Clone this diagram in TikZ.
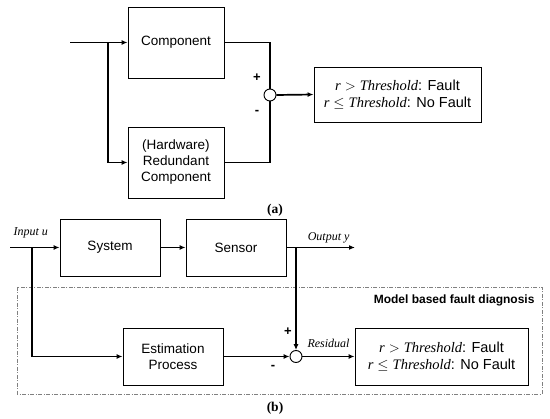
\documentclass[tikz,border=0pt]{standalone}
\usepackage{fontspec}
\setmainfont{Liberation Sans}
\newfontfamily\serifit{Liberation Serif}
\usetikzlibrary{arrows.meta}
\tikzset{
  blk/.style={draw, line width=0.9pt, align=center, font=\fontsize{13.5}{16}\selectfont, inner sep=0pt},
  thbox/.style={blk, font=\fontsize{14.5}{17}\selectfont},
  sumc/.style={draw, circle, line width=0.9pt, minimum size=12pt, inner sep=0pt, fill=white},
  con/.style={line width=1.7pt},
  arr/.style={con, -{Latex[length=6pt,width=5pt]}},
  lbl/.style={font=\fontsize{12}{14}\selectfont\serifit\itshape},
  captxt/.style={font=\fontsize{13.5}{15}\selectfont\serifit\bfseries},
  sg/.style={font=\fontsize{13}{13}\selectfont\bfseries},
}
\newcommand{\tv}[1]{{\serifit\itshape #1}}
\newcommand{\thr}{\tv{r} $>$ \tv{Threshold}: Fault\\ \tv{r} $\leq$ \tv{Threshold}: No Fault}
\begin{document}
\begin{tikzpicture}[x=1pt,y=-1pt]
\useasboundingbox (0,0) rectangle (550,419);
% (a)
\node[blk, minimum width=96pt, minimum height=71pt] (comp) at (176,42.5) {Component};
\node[blk, minimum width=96pt, minimum height=71pt] (red) at (176,162.5) {(Hardware)\\Redundant\\Component};
\node[sumc] (s1) at (270,95) {};
\node[thbox, minimum width=167pt, minimum height=55pt] (th1) at (397.5,94.5) {\thr};
\coordinate (in1) at (70,42.5);
\coordinate (b1) at (108,42.5);
\draw[arr] (in1) -- (comp.west);
\draw[arr] (b1) |- (red.west);
\draw[con] (comp.east) -| (s1.north);
\draw[con] (red.east) -| (s1.south);
\draw[arr] (s1.east) -- (th1.west);
\node[sg] (p1) at (257,78) {+};
\node[sg] (m1) at (257,112) {-};
\node[captxt] (ca) at (275,210) {(a)};
% (b)
\draw[gray, line width=0.6pt, dash pattern=on 4pt off 1.5pt on 1pt off 1.5pt] (17,287) rectangle (542,394);
\node[font=\fontsize{12}{14}\selectfont\bfseries, anchor=east] (mb) at (538,300) {Model based fault diagnosis};
\node[blk, minimum width=100pt, minimum height=57pt] (sys) at (110,247.5) {System};
\node[blk, minimum width=100pt, minimum height=57pt] (sen) at (236,247.5) {Sensor};
\node[blk, minimum width=100pt, minimum height=57pt] (est) at (173,356.5) {Estimation\\Process};
\node[sumc] (s2) at (296,356.5) {};
\node[thbox, minimum width=173pt, minimum height=57pt] (th2) at (441.5,356.5) {\thr};
\coordinate (in2) at (10,247.5);
\coordinate (b2) at (32,247.5);
\coordinate (out) at (355,247.5);
\coordinate (b3) at (296,247.5);
\draw[arr] (in2) -- (sys.west);
\draw[arr] (sys.east) -- (sen.west);
\draw[arr] (sen.east) -- (out);
\draw[arr] (b3) -- (s2.north);
\draw[arr] (b2) |- (est.west);
\draw[arr] (est.east) -- (s2.west);
\draw[arr] (s2.east) -- (th2.west);
\node[lbl, anchor=base west] (iu) at (10,236) {Input u};
\node[lbl, anchor=base east] (oy) at (353,241) {Output y};
\node[lbl, anchor=base west] (rs) at (304,348) {Residual};
\node[sg] (p2) at (288,332) {+};
\node[sg] (m2) at (273,367) {-};
\node[captxt] (cb) at (275,408) {(b)};
\end{tikzpicture}
\end{document}
